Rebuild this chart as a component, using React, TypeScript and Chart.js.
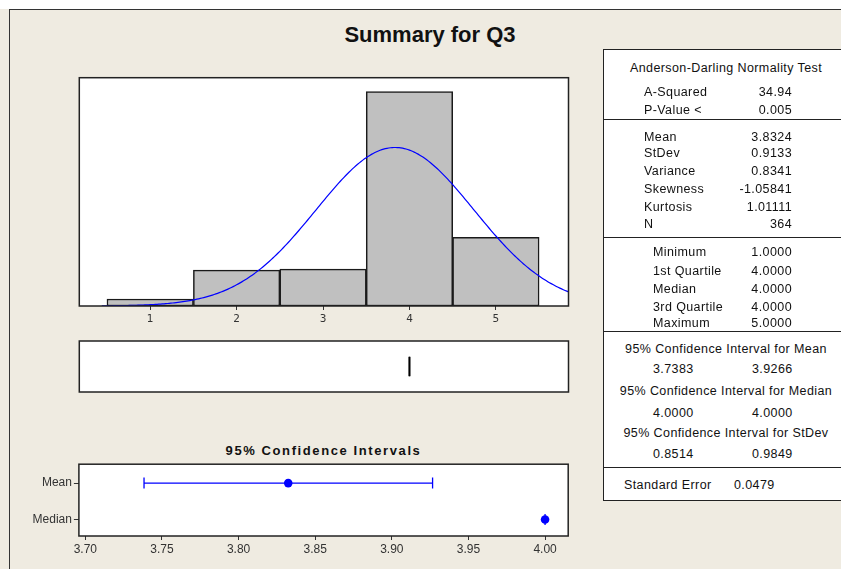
import React, { useEffect, useRef } from 'react';
import { Chart, registerables } from 'chart.js';

Chart.register(...registerables);

// ---------- data ----------
const TITLE = 'Summary for Q3';

const BIN_CENTERS = [1, 2, 3, 4, 5];
const BIN_COUNTS = [7, 36, 37, 215, 69];
const HIST_TICKS = [1, 2, 3, 4, 5];
const HIST_X_MIN = 0.18;
const HIST_X_MAX = 5.84;
const HIST_Y_MAX = 229;

const N = 364;
const MEAN = 3.8324;
const STDEV = 0.9133;
const BIN_WIDTH = 1;
const CURVE_START = 0.44;
const CURVE_STEP = 0.02;

const BOX_WHISKER_LO = 4;
const BOX_Q1 = 4;
const BOX_MEDIAN = 4;
const BOX_Q3 = 4;
const BOX_WHISKER_HI = 4;

const CI_ROWS = ['Mean', 'Median'];
const CI_CENTERS = [3.8324, 4.0];
const CI_LOWER = [3.7383, 4.0];
const CI_UPPER = [3.9266, 4.0];
const CI_TICKS = [3.7, 3.75, 3.8, 3.85, 3.9, 3.95, 4.0];
const CI_X_MIN = 3.6958;
const CI_X_MAX = 4.0151;
const CI_TITLE = '95% Confidence Intervals';

const AD_TITLE = 'Anderson-Darling Normality Test';
const AD_LABELS = ['A-Squared', 'P-Value <'];
const AD_VALUES = ['34.94', '0.005'];
const MOMENT_LABELS = ['Mean', 'StDev', 'Variance', 'Skewness', 'Kurtosis', 'N'];
const MOMENT_VALUES = ['3.8324', '0.9133', '0.8341', '-1.05841', '1.01111', '364'];
const QUANT_LABELS = ['Minimum', '1st Quartile', 'Median', '3rd Quartile', 'Maximum'];
const QUANT_VALUES = ['1.0000', '4.0000', '4.0000', '4.0000', '5.0000'];
const CI_TABLE_TITLES = [
  '95% Confidence Interval for Mean',
  '95% Confidence Interval for Median',
  '95% Confidence Interval for StDev',
];
const CI_TABLE_LO = ['3.7383', '4.0000', '0.8514'];
const CI_TABLE_HI = ['3.9266', '4.0000', '0.9849'];
const SE_LABEL = 'Standard Error';
const SE_VALUE = '0.0479';

// ---------- styles ----------
const BG = '#EFEBE1';
const BLUE = '#0000FF';
const FRAME = '#222';
const NARROW = "'Liberation Sans Narrow', 'Liberation Sans', Arial, sans-serif";
const SANS = "'Liberation Sans', Arial, sans-serif";

const framePlugin = {
  id: 'frameBox',
  beforeDraw(chart: any) {
    const { ctx, chartArea: a } = chart;
    ctx.save();
    ctx.fillStyle = '#fff';
    ctx.fillRect(a.left, a.top, a.right - a.left, a.bottom - a.top);
    ctx.restore();
  },
  afterDraw(chart: any) {
    const { ctx, chartArea: a } = chart;
    ctx.save();
    ctx.strokeStyle = FRAME;
    ctx.lineWidth = 1.5;
    ctx.strokeRect(a.left, a.top, a.right - a.left, a.bottom - a.top);
    ctx.restore();
  },
};

function normalCurve() {
  const pts: { x: number; y: number }[] = [];
  for (let x = CURVE_START; x <= HIST_X_MAX + 1e-9; x += CURVE_STEP) {
    const z = (x - MEAN) / STDEV;
    const y = (N * BIN_WIDTH * Math.exp(-0.5 * z * z)) / (STDEV * Math.sqrt(2 * Math.PI));
    pts.push({ x, y });
  }
  return pts;
}

const baseOpts = {
  animation: false as const,
  responsive: false,
  maintainAspectRatio: false,
  devicePixelRatio: 1,
  events: [] as any[],
  plugins: { legend: { display: false }, tooltip: { enabled: false }, title: { display: false } },
};

export default function App() {
  const histRef = useRef<HTMLCanvasElement>(null);
  const boxRef = useRef<HTMLCanvasElement>(null);
  const ciRef = useRef<HTMLCanvasElement>(null);

  useEffect(() => {
    const charts: Chart[] = [];

    // Histogram + normal fit
    charts.push(
      new Chart(histRef.current as HTMLCanvasElement, {
        type: 'bar',
        data: {
          datasets: [
            {
              type: 'line',
              data: normalCurve(),
              borderColor: BLUE,
              borderWidth: 1.2,
              pointRadius: 0,
              tension: 0,
              order: 0,
            } as any,
            {
              type: 'bar',
              data: BIN_CENTERS.map((x, i) => ({ x, y: BIN_COUNTS[i] })),
              backgroundColor: '#C0C0C0',
              borderColor: '#1a1a1a',
              borderWidth: 1.5,
              borderSkipped: false,
              barPercentage: 1,
              categoryPercentage: 1,
              grouped: false,
              order: 1,
            } as any,
          ],
        },
        options: {
          ...baseOpts,
          layout: { padding: { left: 79.3, right: 31.5, top: 17.7, bottom: 14 } },
          scales: {
            x: {
              type: 'linear',
              min: HIST_X_MIN,
              max: HIST_X_MAX,
              offset: false,
              afterBuildTicks: (s: any) => {
                s.ticks = HIST_TICKS.map((v) => ({ value: v }));
              },
              afterFit: (s: any) => {
                s.height = 30;
              },
              grid: { drawOnChartArea: false, drawTicks: true, tickLength: 4, color: '#333', offset: false },
              border: { display: false },
              ticks: {
                font: { family: "'DejaVu Sans', sans-serif", size: 10.5 },
                color: '#333',
                padding: 3,
                maxRotation: 0,
                autoSkip: false,
                callback: (v: any) => String(v),
              },
            },
            y: { display: false, min: 0, max: HIST_Y_MAX },
          },
        } as any,
        plugins: [framePlugin],
      })
    );

    // Boxplot
    const boxPlugin = {
      id: 'boxplot',
      afterDatasetsDraw(chart: any) {
        const { ctx, chartArea: a, scales } = chart;
        const xs = scales.x;
        const h = a.bottom - a.top;
        const yTop = a.top + h * 0.31;
        const yBot = a.top + h * 0.69;
        const yMid = (yTop + yBot) / 2;
        const q1 = xs.getPixelForValue(BOX_Q1);
        const q3 = xs.getPixelForValue(BOX_Q3);
        const med = xs.getPixelForValue(BOX_MEDIAN);
        const wl = xs.getPixelForValue(BOX_WHISKER_LO);
        const wh = xs.getPixelForValue(BOX_WHISKER_HI);
        ctx.save();
        ctx.strokeStyle = '#000';
        ctx.lineWidth = 1.2;
        ctx.beginPath();
        ctx.moveTo(wl, yMid);
        ctx.lineTo(q1, yMid);
        ctx.moveTo(q3, yMid);
        ctx.lineTo(wh, yMid);
        ctx.stroke();
        ctx.strokeRect(q1, yTop, q3 - q1, yBot - yTop);
        ctx.lineWidth = 2;
        ctx.beginPath();
        ctx.moveTo(med, yTop);
        ctx.lineTo(med, yBot);
        ctx.stroke();
        ctx.restore();
      },
    };
    charts.push(
      new Chart(boxRef.current as HTMLCanvasElement, {
        type: 'scatter',
        data: { datasets: [{ data: [] }] },
        options: {
          ...baseOpts,
          layout: { padding: { left: 79.3, right: 31.5, top: 6, bottom: 8 } },
          scales: {
            x: { type: 'linear', display: false, min: HIST_X_MIN, max: HIST_X_MAX },
            y: { type: 'linear', display: false, min: 0, max: 1 },
          },
        } as any,
        plugins: [framePlugin, boxPlugin],
      })
    );

    // Confidence intervals
    const errPlugin = {
      id: 'errbars',
      beforeDatasetsDraw(chart: any) {
        const { ctx, scales } = chart;
        const xs = scales.x;
        const ys = scales.y;
        ctx.save();
        ctx.strokeStyle = BLUE;
        ctx.lineWidth = 1.3;
        CI_ROWS.forEach((_, i) => {
          const y = ys.getPixelForValue(i);
          const x1 = xs.getPixelForValue(CI_LOWER[i]);
          const x2 = xs.getPixelForValue(CI_UPPER[i]);
          ctx.beginPath();
          ctx.moveTo(x1, y);
          ctx.lineTo(x2, y);
          ctx.moveTo(x1, y - 5.5);
          ctx.lineTo(x1, y + 5.5);
          ctx.moveTo(x2, y - 5.5);
          ctx.lineTo(x2, y + 5.5);
          ctx.stroke();
        });
        ctx.restore();
      },
    };
    charts.push(
      new Chart(ciRef.current as HTMLCanvasElement, {
        type: 'scatter',
        data: {
          datasets: [
            {
              data: CI_CENTERS.map((x, i) => ({ x, y: i })),
              backgroundColor: BLUE,
              borderColor: BLUE,
              pointRadius: 4.3,
              borderWidth: 0,
            },
          ],
        },
        options: {
          ...baseOpts,
          layout: { padding: { left: 0, right: 31.8, top: 7.3, bottom: 5 } },
          scales: {
            x: {
              type: 'linear',
              min: CI_X_MIN,
              max: CI_X_MAX,
              afterBuildTicks: (s: any) => {
                s.ticks = CI_TICKS.map((v) => ({ value: v }));
              },
              afterFit: (s: any) => {
                s.height = 24;
              },
              grid: { drawOnChartArea: false, drawTicks: true, tickLength: 4, color: '#333' },
              border: { display: false },
              ticks: {
                font: { family: NARROW, size: 12 },
                color: '#333',
                padding: 2,
                maxRotation: 0,
                autoSkip: false,
                callback: (v: any) => Number(v).toFixed(2),
              },
            },
            y: {
              type: 'linear',
              reverse: true,
              min: -0.519,
              max: 1.453,
              afterBuildTicks: (s: any) => {
                s.ticks = CI_ROWS.map((_, i) => ({ value: i }));
              },
              afterFit: (s: any) => {
                s.width = 78.9;
              },
              grid: { drawOnChartArea: false, drawTicks: true, tickLength: 5, color: '#333' },
              border: { display: false },
              ticks: {
                font: { family: NARROW, size: 12 },
                color: '#333',
                padding: 2,
                autoSkip: false,
                callback: (v: any) => CI_ROWS[Math.round(Number(v))] ?? '',
              },
            },
          },
        } as any,
        plugins: [framePlugin, errPlugin],
      })
    );

    return () => charts.forEach((c) => c.destroy());
  }, []);

  const tableFont: React.CSSProperties = {
    position: 'absolute',
    fontFamily: SANS,
    fontSize: 12.5,
    letterSpacing: '0.4px',
    color: '#111',
    lineHeight: '16px',
    height: 16,
    whiteSpace: 'nowrap',
  };
  const left = (x: number, y: number, t: string, k: string) => (
    <div key={k} style={{ ...tableFont, left: x, top: y - 8 }}>{t}</div>
  );
  const right = (x: number, y: number, t: string, k: string) => (
    <div key={k} style={{ ...tableFont, left: x - 200, width: 200, top: y - 8, textAlign: 'right' }}>{t}</div>
  );
  const center = (y: number, t: string, k: string) => (
    <div key={k} style={{ ...tableFont, left: 603, width: 246, top: y - 8, textAlign: 'center' }}>{t}</div>
  );
  const hline = (y: number, k: string) => (
    <div key={k} style={{ position: 'absolute', left: 603, width: 260, top: y - 0.5, height: 1, background: FRAME }} />
  );

  const adY = [92, 110];
  const momY = [137, 153, 171, 189, 207, 224];
  const quY = [252, 271, 289, 307, 323];
  const ciTitleY = [349, 391, 433];
  const ciValY = [369, 413, 454];

  return (
    <div
      style={{
        position: 'absolute',
        left: 0,
        top: 0,
        width: 841,
        height: 569,
        overflow: 'hidden',
        background: BG,
      }}
    >
      <div style={{ position: 'absolute', left: 0, top: 0, width: 841, height: 9, background: '#fff' }} />
      <div style={{ position: 'absolute', left: 9, top: 9, width: 832, height: 1, background: '#333' }} />
      <div style={{ position: 'absolute', left: 9, top: 9, width: 1, height: 560, background: '#333' }} />

      <div
        style={{
          position: 'absolute',
          left: 0,
          width: 860,
          top: 22,
          height: 26,
          lineHeight: '26px',
          textAlign: 'center',
          fontFamily: SANS,
          fontWeight: 'bold',
          fontSize: 22,
          color: '#111',
        }}
      >
        {TITLE}
      </div>

      <canvas ref={histRef} width={600} height={290} style={{ position: 'absolute', left: 0, top: 60, width: 600, height: 290 }} />
      <canvas ref={boxRef} width={600} height={65} style={{ position: 'absolute', left: 0, top: 335, width: 600, height: 65 }} />

      <div
        style={{
          position: 'absolute',
          left: 173.5,
          width: 300,
          top: 443,
          height: 16,
          lineHeight: '16px',
          textAlign: 'center',
          fontFamily: SANS,
          fontWeight: 'bold',
          fontSize: 13,
          letterSpacing: '1.6px',
          color: '#111',
        }}
      >
        {CI_TITLE}
      </div>
      <canvas ref={ciRef} width={600} height={110} style={{ position: 'absolute', left: 0, top: 455, width: 600, height: 110 }} />

      <div
        style={{
          position: 'absolute',
          left: 603,
          top: 49,
          width: 260,
          height: 452,
          background: '#fff',
          border: `1px solid ${FRAME}`,
          boxSizing: 'border-box',
        }}
      />
      {hline(119, 'l1')}
      {hline(237, 'l2')}
      {hline(331, 'l3')}
      {hline(467, 'l4')}

      {center(68, AD_TITLE, 'adt')}
      {AD_LABELS.map((l, i) => left(644, adY[i], l, 'adl' + i))}
      {AD_VALUES.map((v, i) => right(792, adY[i], v, 'adv' + i))}

      {MOMENT_LABELS.map((l, i) => left(644, momY[i], l, 'ml' + i))}
      {MOMENT_VALUES.map((v, i) => right(792, momY[i], v, 'mv' + i))}

      {QUANT_LABELS.map((l, i) => left(653, quY[i], l, 'ql' + i))}
      {QUANT_VALUES.map((v, i) => right(792, quY[i], v, 'qv' + i))}

      {CI_TABLE_TITLES.map((t, i) => center(ciTitleY[i], t, 'ct' + i))}
      {CI_TABLE_LO.map((v, i) => left(653, ciValY[i], v, 'clo' + i))}
      {CI_TABLE_HI.map((v, i) => left(752, ciValY[i], v, 'chi' + i))}

      {left(624, 485, SE_LABEL, 'sel')}
      {left(734, 485, SE_VALUE, 'sev')}
    </div>
  );
}
